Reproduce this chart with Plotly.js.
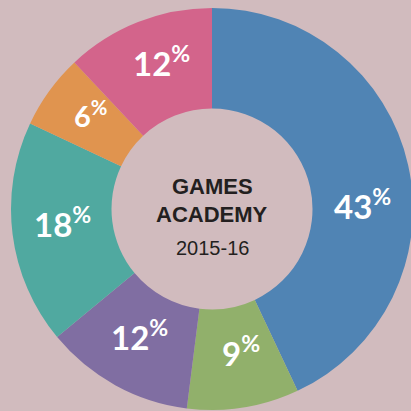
<!DOCTYPE html>
<html>
<head>
<meta charset="utf-8">
<script src="https://cdn.plot.ly/plotly-3.0.1.min.js"></script>
<style>
html, body { margin: 0; padding: 0; overflow: hidden; background: #d1bbbe; }
#chart { width: 424px; height: 418px; }
</style>
</head>
<body>
<div id="chart"></div>
<script>
const categories = ["A", "B", "C", "D", "E", "F"];
const values = [43, 9, 12, 18, 6, 12];
const colors = ["#5084b4", "#91b06b", "#806ea2", "#50a9a0", "#e0944f", "#d3648b"];
const titleLines = ["GAMES", "ACADEMY"];
const subtitle = "2015-16";

// label placement style (degrees of shift from slice middle, font size)
const labelAngleShift = [13, -2, 0, 0, 0, 2];
const labelSizes = [33, 33, 33, 33, 29, 33];

const W = 424, H = 418;
const cx = 212, cy = 209, R = 201, labelR = 0.75 * R;
const domY = [(H - cy - R) / H, (H - cy + R) / H];

const trace = {
  type: "pie",
  labels: categories,
  values: values,
  sort: false,
  direction: "clockwise",
  rotation: 0,
  hole: 0.5,
  marker: { colors: colors, line: { width: 0 } },
  textinfo: "none",
  hoverinfo: "none",
  showlegend: false,
  domain: { x: [0, 1], y: domY }
};

const total = values.reduce((a, b) => a + b, 0);
const labelAnns = [];
let cum = 0;
values.forEach((v, i) => {
  const mid = (cum + v / 2) / total * 360 + labelAngleShift[i];
  cum += v;
  const a = mid * Math.PI / 180;
  const px = cx + labelR * Math.sin(a);
  const py = cy - labelR * Math.cos(a);
  labelAnns.push({
    text: "<b>" + v + "<sup>%</sup></b>",
    x: px / W, y: 1 - py / H, xref: "paper", yref: "paper",
    xanchor: "center", yanchor: "middle", showarrow: false, yshift: 6,
    font: { family: "Lato", size: labelSizes[i], color: "#ffffff" }
  });
});

const layout = {
  width: W,
  height: H,
  margin: { l: 0, r: 0, t: 0, b: 0, pad: 0 },
  paper_bgcolor: "#d1bbbe",
  plot_bgcolor: "#d1bbbe",
  showlegend: false,
  annotations: labelAnns.concat([
    { text: "<b>" + titleLines[0] + "</b>", x: 0.5, y: 1 - 186 / H, xref: "paper", yref: "paper", showarrow: false, font: { family: "Liberation Sans", size: 22, color: "#231f20" } },
    { text: "<b>" + titleLines[1] + "</b>", x: 0.5, y: 1 - 214 / H, xref: "paper", yref: "paper", showarrow: false, font: { family: "Liberation Sans", size: 22, color: "#231f20" } },
    { text: subtitle, x: 0.5, y: 1 - 248 / H, xref: "paper", yref: "paper", showarrow: false, font: { family: "Liberation Sans", size: 20, color: "#231f20" } }
  ])
};

Plotly.newPlot("chart", [trace], layout, { displayModeBar: false, staticPlot: true });
</script>
</body>
</html>
